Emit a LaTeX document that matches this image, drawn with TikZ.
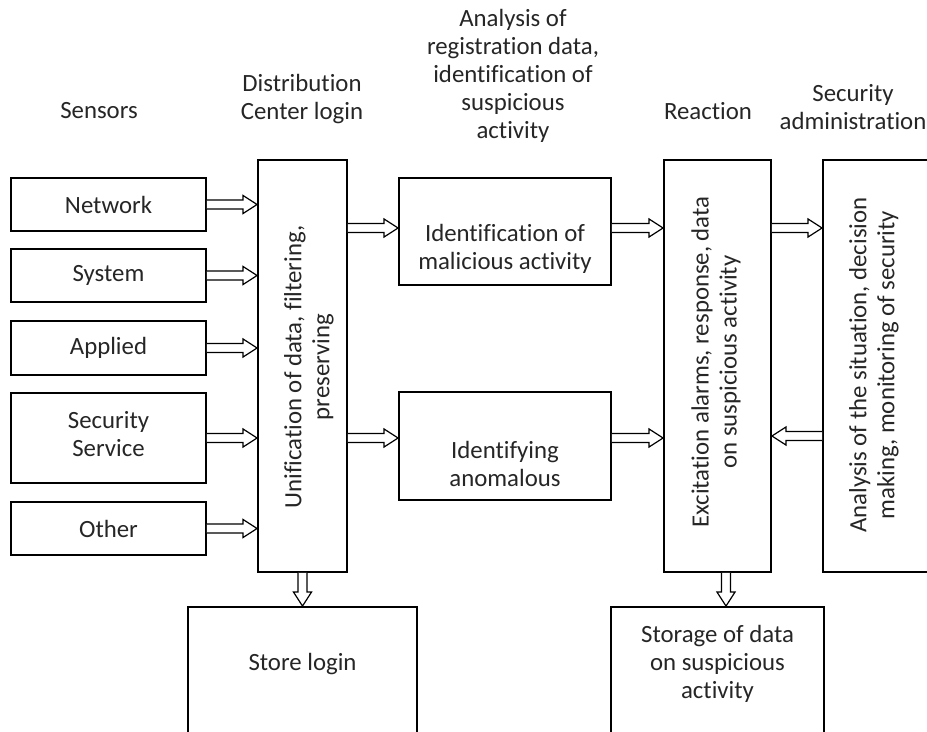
\documentclass[tikz,border=0pt]{standalone}
\usepackage{fontspec}
\setmainfont{Carlito}[Ligatures=NoCommon]
\usetikzlibrary{calc}
\newcommand{\fatarrow}[2]{%
  \path ($(#2)!10.5pt!(#1)$) coordinate (ah);
  \draw[arrowline] ($(#1)!3.4pt!90:(#2)$) -- ($(ah)!3.4pt!90:(#2)$) -- ($(ah)!6.75pt!90:(#2)$) -- (#2) -- ($(ah)!6.75pt!-90:(#2)$) -- ($(ah)!3.4pt!-90:(#2)$) -- ($(#1)!3.4pt!-90:(#2)$);
}
\begin{document}
\begin{tikzpicture}[x=0.75pt,y=-0.75pt,
  every node/.style={font=\fontsize{18.6pt}{21pt}\selectfont, text=black!85, inner sep=0pt, align=center},
  box/.style={draw=black, line width=1.4pt, fill=white},
  arrowline/.style={draw=black, line width=0.9pt, line join=miter, fill=white}]
\useasboundingbox (0,0) rectangle (927,731);
\clip (0,0) rectangle (927,731);
\fill[white] (0,0) rectangle (927,731);
% top labels
\node (lsens) at (99,111) {Sensors};
\node (ldist) at (302,99) {Distribution\\Center login};
\node (lanal) at (513,76) {Analysis of\\registration data,\\identification of\\suspicious\\activity};
\node (lreac) at (708,111) {Reaction};
\node (ladm) at (853,107) {Security\\administration};
% sensor boxes
\node[box, minimum width=195*0.75pt, minimum height=53*0.75pt] (net) at (108.5,204.5) {Network};
\node[box, minimum width=195*0.75pt, minimum height=53*0.75pt] (sys) at (108.5,275.5) {System};
\node[box, minimum width=195*0.75pt, minimum height=54*0.75pt] (app) at (108.5,348) {Applied};
\node[box, minimum width=195*0.75pt, minimum height=90*0.75pt] (sec) at (108.5,438) {};
\node (sect) at (108.5,434) {Security\\Service};
\node[box, minimum width=195*0.75pt, minimum height=53*0.75pt] (oth) at (108.5,528.5) {Other};
% main column boxes
\node[box, minimum width=89*0.75pt, minimum height=412*0.75pt] (unif) at (302.5,366) {};
\node[rotate=90] (unift) at (309,367) {Unification of data, filtering,\\preserving};
\node[box, minimum width=212*0.75pt, minimum height=107*0.75pt] (mal) at (505,231.5) {};
\node (malt) at (505,249) {Identification of\\malicious activity};
\node[box, minimum width=212*0.75pt, minimum height=108*0.75pt] (anom) at (505,446) {};
\node (anomt) at (505,464) {Identifying\\anomalous};
\node[box, minimum width=107*0.75pt, minimum height=412*0.75pt] (react) at (717.5,366) {};
\node[rotate=90] (reactt) at (716,362) {Excitation alarms, response, data\\on suspicious activity};
\node[box, minimum width=110*0.75pt, minimum height=412*0.75pt] (admin) at (878,366) {};
\node[rotate=90] (admint) at (874,365) {Analysis of the situation, decision\\making, monitoring of security};
% bottom boxes
\node[box, minimum width=229*0.75pt, minimum height=150*0.75pt] (store) at (302.5,682) {};
\node (storet) at (302.5,664) {Store login};
\node[box, minimum width=213*0.75pt, minimum height=150*0.75pt] (storage) at (717.5,682) {};
\node (storaget) at (717.5,664) {Storage of data\\on suspicious\\activity};
% sensor arrows
\coordinate (e1) at (net.east -| unif.west); \fatarrow{net.east}{e1}
\coordinate (e2) at (sys.east -| unif.west); \fatarrow{sys.east}{e2}
\coordinate (e3) at (app.east -| unif.west); \fatarrow{app.east}{e3}
\coordinate (e4) at (sec.east -| unif.west); \fatarrow{sec.east}{e4}
\coordinate (e5) at (oth.east -| unif.west); \fatarrow{oth.east}{e5}
% upper row arrows
\coordinate (m1) at ($(mal.west)+(0,-3.5)$);
\coordinate (m0) at (m1 -| unif.east); \fatarrow{m0}{m1}
\coordinate (m2) at (m1 -| mal.east);
\coordinate (m3) at (m1 -| react.west); \fatarrow{m2}{m3}
\coordinate (m4) at (m1 -| react.east);
\coordinate (m5) at (m1 -| admin.west); \fatarrow{m4}{m5}
% lower row arrows
\coordinate (n1) at ($(anom.west)+(0,-8)$);
\coordinate (n0) at (n1 -| unif.east); \fatarrow{n0}{n1}
\coordinate (n2) at (n1 -| anom.east);
\coordinate (n3) at (n1 -| react.west); \fatarrow{n2}{n3}
\coordinate (n4) at ($(n1 -| admin.west)+(0,-2)$);
\coordinate (n5) at (n4 -| react.east); \fatarrow{n4}{n5}
% down arrows
\coordinate (d0) at (unif.south);
\coordinate (d1) at (d0 |- store.north); \fatarrow{d0}{d1}
\coordinate (d2) at ($(react.south)+(8.5,0)$);
\coordinate (d3) at (d2 |- storage.north); \fatarrow{d2}{d3}
\end{tikzpicture}
\end{document}
